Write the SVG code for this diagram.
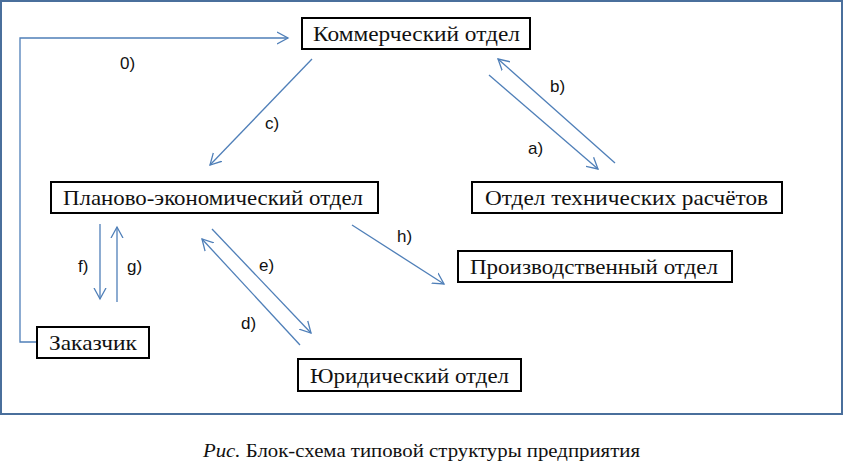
<svg xmlns="http://www.w3.org/2000/svg" width="844" height="464" viewBox="0 0 844 464">
<style>
.frame{fill:#fff;stroke:#4a6f9c;stroke-width:2}
.box{fill:#fff;stroke:#000;stroke-width:2}
.nt{font-family:'Liberation Serif','Times New Roman',Tinos,'DejaVu Serif',serif;font-size:21px;fill:#111}
.lbl{font-family:'Liberation Sans',Arial,sans-serif;font-size:17px;fill:#111}
.con{fill:none;stroke:#4f7fb8;stroke-width:1.3;marker-end:url(#arr)}
.cap{font-family:'Liberation Serif','Times New Roman',Tinos,'DejaVu Serif',serif;font-size:19px;fill:#111}
</style>
<defs>
<marker id="arr" markerUnits="userSpaceOnUse" markerWidth="14" markerHeight="14" refX="11" refY="6" orient="auto" viewBox="0 0 14 12">
<path d="M0,0 L11,6 L0,12" fill="none" stroke="#4f7fb8" stroke-width="1.3"/>
</marker>
</defs>
<rect class="frame" x="1" y="1" width="841" height="413"/>
<g id="connectors">
<polyline class="con" points="37,342 20,342 20,38 288,38"/>
<line class="con" x1="312" y1="59" x2="210" y2="165"/>
<line class="con" x1="489" y1="75" x2="598" y2="169"/>
<line class="con" x1="615" y1="163" x2="498" y2="59"/>
<line class="con" x1="100" y1="224" x2="100" y2="299"/>
<line class="con" x1="117" y1="302" x2="117" y2="227"/>
<line class="con" x1="212" y1="229" x2="311" y2="333"/>
<line class="con" x1="300" y1="345" x2="202" y2="239"/>
<line class="con" x1="352" y1="225" x2="444" y2="284"/>
<text class="lbl" x="120" y="69">0)</text>
<text class="lbl" x="265" y="129">c)</text>
<text class="lbl" x="528" y="154">a)</text>
<text class="lbl" x="550" y="92">b)</text>
<text class="lbl" x="78" y="272">f)</text>
<text class="lbl" x="127" y="272">g)</text>
<text class="lbl" x="259" y="271">e)</text>
<text class="lbl" x="241" y="329">d)</text>
<text class="lbl" x="397" y="242">h)</text>
</g>
<g id="commercial">
<rect class="box" x="302" y="18" width="228" height="31"/>
<text class="nt" x="313" y="41" textLength="207" lengthAdjust="spacingAndGlyphs">Коммерческий отдел</text>
</g>
<g id="planning">
<rect class="box" x="51" y="182" width="327" height="31"/>
<text class="nt" x="63" y="205" textLength="300" lengthAdjust="spacingAndGlyphs">Планово-экономический отдел</text>
</g>
<g id="technical">
<rect class="box" x="472" y="182" width="310" height="31"/>
<text class="nt" x="485" y="205" textLength="283" lengthAdjust="spacingAndGlyphs">Отдел технических расчётов</text>
</g>
<g id="production">
<rect class="box" x="458" y="251" width="274" height="31"/>
<text class="nt" x="470" y="274" textLength="248" lengthAdjust="spacingAndGlyphs">Производственный отдел</text>
</g>
<g id="customer">
<rect class="box" x="37" y="327" width="112" height="31"/>
<text class="nt" x="49" y="350" textLength="88" lengthAdjust="spacingAndGlyphs">Заказчик</text>
</g>
<g id="legal">
<rect class="box" x="298" y="359" width="223" height="32"/>
<text class="nt" x="310" y="383" textLength="199" lengthAdjust="spacingAndGlyphs">Юридический отдел</text>
</g>
<text class="cap" x="203" y="457" textLength="437" lengthAdjust="spacingAndGlyphs"><tspan font-style="italic">Рис.</tspan> Блок-схема типовой структуры предприятия</text>
</svg>
